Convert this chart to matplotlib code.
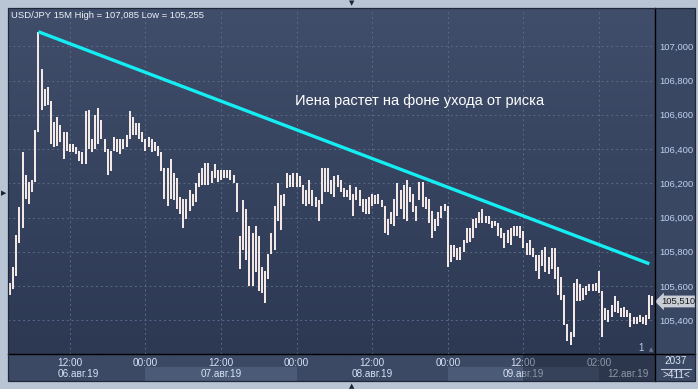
import numpy as np
import matplotlib
matplotlib.use("Agg")
import matplotlib.pyplot as plt
from matplotlib.transforms import blended_transform_factory
from matplotlib.ticker import FuncFormatter
from matplotlib.patches import Rectangle
from matplotlib.lines import Line2D
from matplotlib.colors import LinearSegmentedColormap

# ---------------- data ----------------
lows = [105.55, 105.58, 105.66, 105.85, 105.94, 106.11, 106.08, 106.15, 106.21, 106.50,
        106.63, 106.65, 106.66, 106.43, 106.41, 106.42, 106.44, 106.34, 106.39, 106.38,
        106.38, 106.37, 106.33, 106.31, 106.31, 106.40, 106.38, 106.40, 106.43, 106.46,
        106.38, 106.25, 106.27, 106.39, 106.38, 106.37, 106.40, 106.41, 106.46, 106.48,
        106.48, 106.46, 106.44, 106.39, 106.41, 106.38, 106.39, 106.36, 106.27, 106.11,
        106.07, 106.11, 106.10, 106.05, 106.02, 105.94, 105.99, 106.04, 106.07, 106.09,
        106.18, 106.19, 106.19, 106.19, 106.20, 106.23, 106.21, 106.22, 106.23, 106.23,
        106.22, 106.20, 106.03, 105.70, 105.81, 105.75, 105.60, 105.60, 105.68, 105.57,
        105.56, 105.50, 105.64, 105.79, 105.81, 105.98, 105.93, 106.07, 106.17, 106.18,
        106.18, 106.18, 106.18, 106.08, 106.07, 106.08, 106.07, 106.06, 105.98, 106.08,
        106.15, 106.15, 106.14, 106.12, 106.18, 106.15, 106.12, 106.12, 106.10, 106.01,
        106.10, 106.07, 106.03, 106.02, 106.02, 106.07, 106.08, 106.08, 106.06, 105.91,
        105.90, 105.96, 105.95, 106.01, 106.05, 105.99, 105.98, 106.09, 106.03, 105.98,
        106.10, 106.06, 106.05, 105.97, 105.88, 105.92, 105.95, 106.00, 106.04, 105.71,
        105.74, 105.77, 105.75, 105.75, 105.80, 105.85, 105.86, 105.88, 105.94, 105.97,
        105.97, 105.97, 105.96, 105.94, 105.95, 105.89, 105.88, 105.82, 105.85, 105.84,
        105.89, 105.89, 105.88, 105.82, 105.78, 105.78, 105.77, 105.69, 105.64, 105.72,
        105.68, 105.67, 105.70, 105.64, 105.55, 105.52, 105.37, 105.28, 105.255, 105.30,
        105.51, 105.51, 105.52, 105.55, 105.57, 105.57, 105.57, 105.56, 105.30, 105.40,
        105.39, 105.42, 105.45, 105.44, 105.42, 105.42, 105.42, 105.36, 105.38, 105.38,
        105.39, 105.38, 105.37, 105.41, 105.49]
highs = [105.62, 105.71, 105.90, 106.06, 106.38, 106.25, 106.21, 106.22, 106.51, 107.085,
         106.87, 106.75, 106.76, 106.68, 106.56, 106.59, 106.54, 106.50, 106.50, 106.43,
         106.43, 106.41, 106.39, 106.38, 106.62, 106.63, 106.46, 106.60, 106.64, 106.57,
         106.46, 106.40, 106.39, 106.47, 106.46, 106.46, 106.46, 106.48, 106.62, 106.59,
         106.55, 106.55, 106.50, 106.46, 106.47, 106.46, 106.44, 106.42, 106.38, 106.29,
         106.29, 106.34, 106.26, 106.23, 106.12, 106.11, 106.11, 106.16, 106.14, 106.20,
         106.26, 106.29, 106.32, 106.32, 106.27, 106.31, 106.28, 106.28, 106.28, 106.28,
         106.28, 106.25, 106.20, 105.89, 106.10, 106.05, 105.95, 105.91, 105.95, 105.89,
         105.71, 105.69, 105.79, 105.91, 106.07, 106.20, 106.13, 106.14, 106.26, 106.25,
         106.26, 106.26, 106.24, 106.19, 106.16, 106.22, 106.16, 106.12, 106.10, 106.29,
         106.29, 106.29, 106.22, 106.24, 106.25, 106.22, 106.17, 106.16, 106.19, 106.14,
         106.18, 106.16, 106.11, 106.11, 106.12, 106.14, 106.13, 106.14, 106.10, 106.07,
         105.99, 106.03, 106.11, 106.20, 106.16, 106.19, 106.22, 106.18, 106.14, 106.07,
         106.21, 106.21, 106.12, 106.11, 106.04, 105.99, 106.03, 106.07, 106.08, 106.07,
         105.84, 105.84, 105.82, 105.83, 105.87, 105.94, 105.94, 105.99, 106.00, 106.03,
         106.05, 106.01, 106.01, 105.98, 105.98, 105.97, 105.94, 105.91, 105.93, 105.94,
         105.95, 105.95, 105.95, 105.92, 105.85, 105.87, 105.82, 105.78, 105.78, 105.81,
         105.83, 105.77, 105.82, 105.82, 105.71, 105.65, 105.55, 105.38, 105.33, 105.62,
         105.64, 105.61, 105.59, 105.60, 105.61, 105.61, 105.62, 105.69, 105.57, 105.47,
         105.46, 105.49, 105.54, 105.51, 105.47, 105.48, 105.46, 105.44, 105.42, 105.42,
         105.43, 105.42, 105.43, 105.55, 105.54]

symbol = "USD/JPY"
timeframe = "15M"
price_ticks = [105.4, 105.6, 105.8, 106.0, 106.2, 106.4, 106.6, 106.8, 107.0]
time_tick_pos = [19, 43, 67, 91, 115, 139, 163, 187]
time_tick_labels = ["12:00", "00:00", "12:00", "00:00", "12:00", "00:00", "12:00", "02:00"]
date_labels = ["06.авг.19", "07.авг.19", "08.авг.19", "09.авг.19", "12.авг.19"]
date_label_pos = [21.8, 67, 115, 163, 196.2]
shaded_days = [(43, 91), (139, 187)]
future_start = 163
trend_x = [9, 203]
trend_y = [107.085, 105.73]
note = "Иена растет на фоне ухода от риска"
note_x, note_y = 130, 106.68
last_price = 105.510
bars_total = 2037
bars_visible = 411

plt.rcParams["font.family"] = ["Liberation Sans", "DejaVu Sans"]

W, H = 698, 389


def rect_px(x0, y0, x1, y1):
    return [x0 / W, 1 - y1 / H, (x1 - x0) / W, (y1 - y0) / H]


fig = plt.figure(figsize=(W / 100, H / 100), dpi=100)
fig.patch.set_facecolor("#b9c5d5")

# panels
fig.add_artist(Rectangle((8 / W, 1 - 381 / H), 687 / W, 373 / H, transform=fig.transFigure,
                         facecolor="#3c4964", edgecolor="none", zorder=-2))
fig.add_artist(Rectangle((655.3 / W, 1 - 354.3 / H), (695 - 655.3) / W, (354.3 - 8) / H,
                         transform=fig.transFigure, facecolor="#394763", edgecolor="none", zorder=-1.5))

ax = fig.add_axes(rect_px(8, 8, 655.3, 354.3))
ax.set_facecolor("none")
grad = np.linspace(0, 1, 256).reshape(-1, 1)
cmap = LinearSegmentedColormap.from_list("bg", ["#404e6b", "#2d3953"])
ax.imshow(grad, cmap=cmap, extent=[0, 1, 0, 1], transform=ax.transAxes, aspect="auto", zorder=0)

idx = np.arange(len(highs))
ax.vlines(idx, lows, highs, color="#fff3ee", linewidth=1.35, zorder=3)

ax.plot(trend_x, trend_y, color="#14eef3", linewidth=2.4, solid_capstyle="butt", zorder=4)

ax.set_xlim(-0.65, 204.9)
ax.set_ylim(105.2015, 107.2236)

for s in ax.spines.values():
    s.set_visible(False)

ax.set_axisbelow(True)
ax.grid(True, color="#5b6986", linestyle=(0, (2, 3)), linewidth=0.7)

ax.set_yticks(price_ticks)
ax.yaxis.set_major_formatter(FuncFormatter(lambda v, p: f"{v:.3f}".replace(".", ",")))
ax.yaxis.tick_right()
ax.tick_params(axis="y", length=0, pad=3.0, labelsize=6.8, labelcolor="#bed2f0")

ax.set_xticks(time_tick_pos, time_tick_labels)
ax.tick_params(axis="x", length=0, pad=2.6, labelsize=7.2, labelcolor="#d8e2f4")

bt = blended_transform_factory(ax.transData, ax.transAxes)
for a, b in shaded_days:
    ax.add_patch(Rectangle((a, -0.0771), b - a, 0.039, transform=bt, clip_on=False,
                           facecolor="#4b5a76", edgecolor="none", zorder=0.2))
for lbl, pos in zip(date_labels, date_label_pos):
    ax.text(pos, -0.0575, lbl, transform=bt, ha="center", va="center", fontsize=7.2,
            color="#d8e2f4", clip_on=False, zorder=1)
ax.add_patch(Rectangle((future_start, -0.0771), 204.9 - future_start, 0.0771, transform=bt,
                       clip_on=False, facecolor="#141b2a", alpha=0.38, edgecolor="none", zorder=10))

# title
ax.text(0.004, 0.99, f"{symbol} {timeframe} High = {max(highs):.3f} Low = {min(lows):.3f}".replace(".", ","),
        transform=ax.transAxes, ha="left", va="top", fontsize=6.8, color="#eef1f6", zorder=6)

# annotation
ax.text(note_x, note_y, note, ha="center", va="center", fontsize=10.5, color="#ffffff", zorder=6)

# last price tag
br = blended_transform_factory(ax.transAxes, ax.transData)
ax.text(1.0 + 6 / 647, last_price, f"{last_price:.3f}".replace(".", ","), transform=br,
        ha="left", va="center", fontsize=6.8, color="#1a1a1a", clip_on=False, zorder=8,
        bbox=dict(boxstyle="larrow,pad=0.15", facecolor="#c9cdd5", edgecolor="none"))

# misc marks
fig.text(641 / W, 1 - 348 / H, "1", ha="center", va="center", fontsize=7, color="#b7cdef")
fig.text(651 / W, 1 - 350 / H, "▲", ha="center", va="center", fontsize=4, color="#6a7890",
         family="DejaVu Sans")
fig.text(676 / W, 1 - 361.5 / H, str(bars_total), ha="center", va="center", fontsize=7.2, color="#dde5f2")
fig.text(676 / W, 1 - 375 / H, f">{bars_visible}<", ha="center", va="center", fontsize=7.2, color="#dde5f2")
fig.add_artist(Line2D([661 / W, 691 / W], [1 - 368.5 / H] * 2, transform=fig.transFigure,
                      color="#c8d2e2", linewidth=0.8))

# separators and frame
fig.add_artist(Line2D([655.3 / W] * 2, [1 - 8 / H, 1 - 381 / H], transform=fig.transFigure,
                      color="#000000", linewidth=1.0, zorder=11))
fig.add_artist(Line2D([8 / W, 695 / W], [1 - 354.3 / H] * 2, transform=fig.transFigure,
                      color="#000000", linewidth=1.0, zorder=11))
fig.add_artist(Rectangle((8 / W, 1 - 381 / H), 687 / W, 373 / H, transform=fig.transFigure,
                         facecolor="none", edgecolor="#1f2739", linewidth=0.9, zorder=11))

# frame arrows
fig.text(352 / W, 1 - 3 / H, "▼", ha="center", va="center", fontsize=5, color="#1e2430", family="DejaVu Sans")
fig.text(3.5 / W, 1 - 193 / H, "▶", ha="center", va="center", fontsize=5, color="#1e2430", family="DejaVu Sans")
fig.text(352 / W, 1 - 386 / H, "▲", ha="center", va="center", fontsize=5, color="#1e2430", family="DejaVu Sans")

fig.savefig("out.png", dpi=100, facecolor=fig.get_facecolor())
